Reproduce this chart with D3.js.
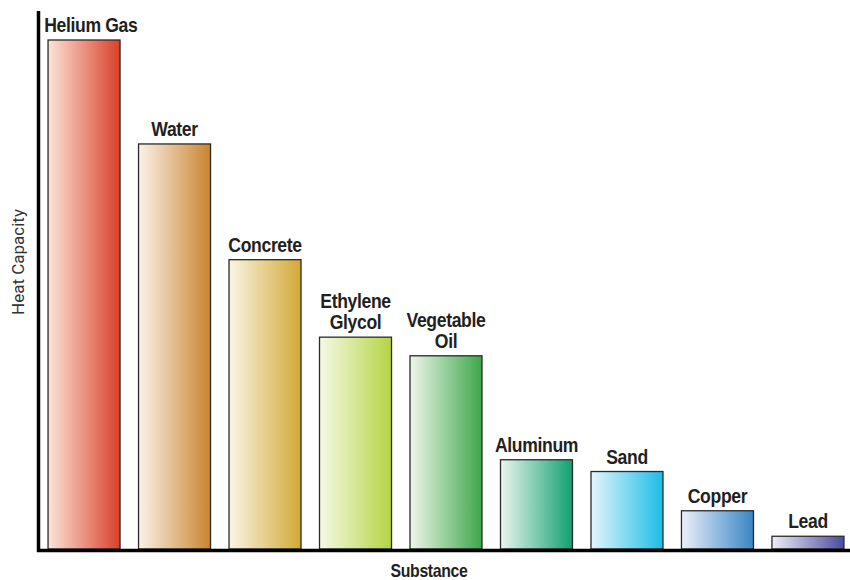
<!DOCTYPE html>
<html>
<head>
<meta charset="utf-8">
<script src="https://cdn.jsdelivr.net/npm/d3@7"></script>
<style>
  body { margin: 0; background: #fff; }
  svg { display: block; }
</style>
</head>
<body>
<svg id="chart" width="850" height="580"></svg>
<script>
const substances = ["Helium Gas", "Water", "Concrete", "Ethylene Glycol", "Vegetable Oil", "Aluminum", "Sand", "Copper", "Lead"];
const labelLines = [["Helium Gas"], ["Water"], ["Concrete"], ["Ethylene", "Glycol"], ["Vegetable", "Oil"], ["Aluminum"], ["Sand"], ["Copper"], ["Lead"]];
const heatCapacity = [5.19, 4.13, 2.95, 2.16, 1.97, 0.91, 0.79, 0.39, 0.13];
const lightColors = ["#fbe4d8", "#fbf2e8", "#faf5e4", "#f6f9e4", "#eef6ea", "#eaf5ef", "#e4f5fc", "#eceff8", "#eeedf7"];
const darkColors = ["#d9402a", "#c98430", "#d2a836", "#b4d444", "#3ea64a", "#12a071", "#1cbde6", "#3a86c4", "#4a4c9e"];

const svg = d3.select("#chart");

const x = d3.scaleBand().domain(substances).range([39, 853]).paddingInner(0.2044).paddingOuter(0.1);
const y = d3.scaleLinear().domain([0, 5.19]).range([549, 40]);

const defs = svg.append("defs");
substances.forEach((s, i) => {
  const g = defs.append("linearGradient").attr("id", "grad" + i)
    .attr("x1", "0%").attr("x2", "100%").attr("y1", "0%").attr("y2", "0%");
  g.append("stop").attr("offset", "0%").attr("stop-color", lightColors[i]);
  g.append("stop").attr("offset", "100%").attr("stop-color", darkColors[i]);
});

svg.selectAll("rect.bar").data(substances).enter().append("rect")
  .attr("class", "bar")
  .attr("x", d => x(d))
  .attr("y", (d, i) => y(heatCapacity[i]))
  .attr("width", x.bandwidth())
  .attr("height", (d, i) => y(0) - y(heatCapacity[i]))
  .attr("fill", (d, i) => `url(#grad${i})`)
  .attr("stroke", "#2a2a2a")
  .attr("stroke-width", 1.3);

// labels (condensed bold look)
const SX = 0.88;
const minLeft = 44;
substances.forEach((d, i) => {
  const lines = labelLines[i];
  const cx = x(d) + x.bandwidth() / 2;
  const base = y(heatCapacity[i]) - 8;
  const g = svg.append("g");
  const t = g.append("text")
    .attr("text-anchor", "middle")
    .attr("font-family", "'Liberation Sans', Arial, sans-serif")
    .attr("font-weight", "bold")
    .attr("font-size", 20)
    .attr("letter-spacing", -0.4)
    .attr("fill", "#231f20");
  lines.forEach((s, j) => {
    t.append("tspan")
      .attr("x", 0)
      .attr("y", base - (lines.length - 1 - j) * 21)
      .text(s);
  });
  const w = t.node().getBBox().width * SX;
  const shift = Math.max(0, minLeft - (cx - w / 2));
  g.attr("transform", `translate(${cx + shift},0) scale(${SX},1)`);
});

// axis lines (no ticks)
svg.append("line").attr("x1", 38.5).attr("x2", 38.5).attr("y1", 11).attr("y2", 552)
  .attr("stroke", "#000").attr("stroke-width", 3.5);
svg.append("line").attr("x1", 37).attr("x2", 850).attr("y1", 550.5).attr("y2", 550.5)
  .attr("stroke", "#000").attr("stroke-width", 3.5);

svg.append("text")
  .attr("transform", "translate(24,262) rotate(-90)")
  .attr("text-anchor", "middle")
  .attr("font-family", "Roboto, sans-serif")
  .attr("font-size", 17)
  .attr("fill", "#333")
  .text("Heat Capacity");

svg.append("g").attr("transform", `translate(429,577) scale(${SX},1)`)
  .append("text")
  .attr("text-anchor", "middle")
  .attr("font-family", "'Liberation Sans', Arial, sans-serif")
  .attr("font-weight", "bold")
  .attr("font-size", 18)
  .attr("letter-spacing", -0.4)
  .attr("fill", "#231f20")
  .text("Substance");
</script>
</body>
</html>
